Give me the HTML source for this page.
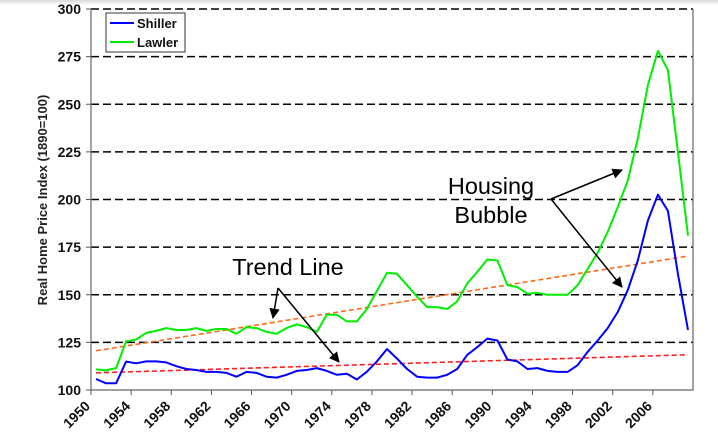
<!DOCTYPE html>
<html><head><meta charset="utf-8">
<style>
html,body{margin:0;padding:0;background:#fff;}
body{width:718px;height:443px;overflow:hidden;font-family:"Liberation Sans",sans-serif;}
</style></head>
<body>
<svg id="chart" width="718" height="443" xmlns="http://www.w3.org/2000/svg">
<defs>
<linearGradient id="topg" x1="0" y1="0" x2="0" y2="1"><stop offset="0" stop-color="#d8d8d8"/><stop offset="1" stop-color="#fff"/></linearGradient>
<marker id="ah" viewBox="0 0 10 10" refX="9" refY="5" markerWidth="7" markerHeight="7" orient="auto"><path d="M0,0 L10,5 L0,10 z" fill="#000"/></marker>
</defs>
<rect x="0" y="0" width="718" height="5" fill="url(#topg)"/>
<g id="grid"></g>
<g id="series"></g>
<g id="axes"></g>
<g>
<rect x="106" y="13" width="79" height="39" fill="#fff" stroke="#333" stroke-width="1"/>
<line x1="110" y1="23" x2="134" y2="23" stroke="#0000ff" stroke-width="2"/>
<text x="137" y="28" font-size="13" font-weight="bold" fill="#111">Shiller</text>
<line x1="110" y1="42" x2="134" y2="42" stroke="#00ee00" stroke-width="2"/>
<text x="137" y="47" font-size="13" font-weight="bold" fill="#111">Lawler</text>
</g>
<text transform="translate(47,200) rotate(-90)" text-anchor="middle" font-size="13" font-weight="bold" fill="#222">Real Home Price Index (1890=100)</text>
<g>
<text x="288" y="275" text-anchor="middle" font-size="23.5" fill="#000">Trend Line</text>
<line x1="278" y1="288" x2="273" y2="318" stroke="#000" stroke-width="1.5" marker-end="url(#ah)"/>
<line x1="278" y1="288" x2="339" y2="362" stroke="#000" stroke-width="1.5" marker-end="url(#ah)"/>
</g>
<g>
<text x="491" y="194" text-anchor="middle" font-size="23.5" fill="#000">Housing</text>
<text x="491" y="223" text-anchor="middle" font-size="23.5" fill="#000">Bubble</text>
<line x1="551" y1="199" x2="622" y2="170" stroke="#000" stroke-width="1.5" marker-end="url(#ah)"/>
<line x1="551" y1="199" x2="622" y2="287" stroke="#000" stroke-width="1.5" marker-end="url(#ah)"/>
</g>
</svg>
<script>
const years = [];
for (let y = 1950; y <= 2009; y++) years.push(y);
const shiller = [105.8,103.5,103.5,114.9,114,115,115,114.5,112.5,111,110.5,109.5,109.5,109,107,109.5,109,107,106.5,108,110,110.5,111.5,110,108,108.5,105.5,109.6,115,121.5,116.5,111,107,106.5,106.5,108,111,118.5,122.5,127,126,116,115,111,111.5,110,109.5,109.5,113,120,126,132.5,141,152.5,168,189,202.5,194,161,131.5];
const lawler = [110.8,110.3,111.5,125.5,126.5,130,131,132.5,131.5,131.5,132.5,131,132,132,129.5,133,132.5,130.5,129.5,132.5,134.5,133,130.5,139.5,139.5,136,136,142.5,152,161.5,161,155,149,143.5,143.5,142.5,146.5,156,162,168.5,168,155,154,150.5,151,150,150,150,155,163.5,172,183,196,210,232,260,278,268,225,181];
const trendYears = [1950, 2009];
const lawlerTrend = [120.6, 170.3];
const shillerTrend = [109, 118.5];
const yTicks = [100,125,150,175,200,225,250,275,300];
const xTicks = [1950,1954,1958,1962,1966,1970,1974,1978,1982,1986,1990,1994,1998,2002,2006];

const NS = "http://www.w3.org/2000/svg";
const L = 91, R = 693, T = 9, B = 390;
const xS = yr => L + (yr - 1950) / 60 * (R - L);
const xP = yr => xS(yr + 0.5);
const yS = v => B - (v - 100) / 200 * (B - T);
function mk(tag, attrs, parent) {
  const e = document.createElementNS(NS, tag);
  for (const k in attrs) e.setAttribute(k, attrs[k]);
  parent.appendChild(e);
  return e;
}
const grid = document.getElementById('grid');
const axes = document.getElementById('axes');
const series = document.getElementById('series');

yTicks.forEach(v => {
  if (v > 100) {
    const g = mk('line', {x1: L, x2: R, y1: yS(v), y2: yS(v), stroke: '#000', 'stroke-width': 1.6, 'stroke-dasharray': '8,4'}, grid);
    
    
  }
  const tk = mk('line', {x1: L - 5, x2: L, y1: yS(v), y2: yS(v), stroke: '#555', 'stroke-width': 1}, axes);
  
  
  const t = mk('text', {x: 81, y: yS(v) + 5, 'text-anchor': 'end', 'font-size': 14, 'font-weight': 'bold', fill: '#111'}, axes);
  
  
  t.textContent = v;
});
const ax = mk('path', {d: `M${L},${T} L${L},${B} L${R},${B} L${R},${T}`, fill: 'none', stroke: '#666', 'stroke-width': 1.2}, axes);


xTicks.forEach(yr => {
  const x = xS(yr);
  const tk = mk('line', {x1: x, x2: x, y1: B, y2: B + 5, stroke: '#555', 'stroke-width': 1}, axes);
  
  
  const t = mk('text', {x: x, y: B + 17, 'text-anchor': 'end', 'font-size': 14, 'font-weight': 'bold', fill: '#111', transform: `rotate(-45 ${x} ${B + 17})`}, axes);
  
  
  t.textContent = yr;
});

function trend(vals, color, name) {
  const l = mk('line', {x1: xP(trendYears[0]), y1: yS(vals[0]), x2: xP(trendYears[1]), y2: yS(vals[1]), stroke: color, 'stroke-width': 1.6, 'stroke-dasharray': '5,3'}, series);
  
  
}
trend(shillerTrend, '#ff2020', 'shiller-trend-line');
trend(lawlerTrend, '#ff6a1a', 'lawler-trend-line');

function line(vals, color, name) {
  const d = vals.map((v, i) => (i ? 'L' : 'M') + xP(years[i]).toFixed(1) + ',' + yS(v).toFixed(1)).join(' ');
  const p = mk('path', {d: d, fill: 'none', stroke: color, 'stroke-width': 2, 'stroke-linejoin': 'round'}, series);
  
  
}
line(shiller, '#0000ff', 'shiller-line');
line(lawler, '#00ee00', 'lawler-line');
</script>
</body></html>
